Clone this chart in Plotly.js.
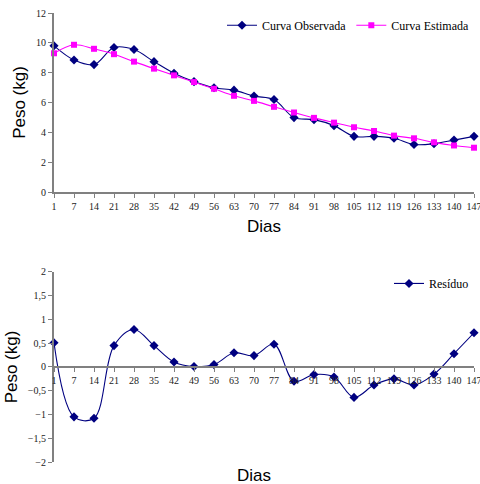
<!DOCTYPE html>
<html>
<head>
<meta charset="utf-8">
<script src="https://cdn.plot.ly/plotly-3.0.1.min.js"></script>
<style>html,body{margin:0;padding:0;background:#fff;}#chart{width:480px;height:484px;}</style>
</head>
<body>
<div id="chart"></div>
<script>
var dias = ['1','7','14','21','28','35','42','49','56','63','70','77','84','91','98','105','112','119','126','133','140','147'];
var observada = [9.8,8.85,8.54,9.69,9.55,8.74,7.96,7.4,6.99,6.83,6.43,6.2,4.99,4.85,4.45,3.73,3.73,3.6,3.19,3.24,3.48,3.73];
var estimada = [9.3,9.87,9.6,9.24,8.74,8.27,7.82,7.37,6.92,6.45,6.11,5.71,5.33,4.97,4.65,4.34,4.09,3.78,3.6,3.33,3.12,2.97];
var residuo = [0.51,-1.05,-1.08,0.45,0.79,0.45,0.105,0.01,0.05,0.30,0.24,0.48,-0.30,-0.16,-0.21,-0.64,-0.38,-0.25,-0.38,-0.15,0.28,0.72];
var yTicks1 = [0,2,4,6,8,10,12];
var yTicks2 = [-2,-1.5,-1,-0.5,0,0.5,1,1.5,2];

var blue = '#000080', pink = '#FF00FF';
var tickFont = {family: 'Liberation Serif, Times New Roman, serif', size: 10, color: '#222'};
var titleFont = {family: 'Liberation Sans, Arial, sans-serif', size: 17, color: '#000'};
var legFont = {family: 'Liberation Serif, Times New Roman, serif', size: 12, color: '#000'};

var traces = [
  {x: dias, y: observada, name: 'Curva Observada', type: 'scatter', mode: 'lines+markers',
   line: {color: blue, width: 1.1, shape: 'spline'}, marker: {symbol: 'diamond', size: 7, color: blue},
   xaxis: 'x', yaxis: 'y', cliponaxis: false, legend: 'legend'},
  {x: dias, y: estimada, name: 'Curva Estimada', type: 'scatter', mode: 'lines+markers',
   line: {color: pink, width: 1.1, shape: 'spline'}, marker: {symbol: 'square', size: 6, color: pink},
   xaxis: 'x', yaxis: 'y', cliponaxis: false, legend: 'legend'},
  {x: dias, y: residuo, name: 'Resíduo', type: 'scatter', mode: 'lines+markers',
   line: {color: blue, width: 1.1, shape: 'spline'}, marker: {symbol: 'diamond', size: 7, color: blue},
   xaxis: 'x2', yaxis: 'y2', cliponaxis: false, legend: 'legend2'}
];

var axisCommon = {showgrid: false, zeroline: false, showline: true, linecolor: '#808080', linewidth: 2,
  ticks: 'outside', ticklen: 4, tickcolor: '#808080', tickwidth: 1, tickfont: tickFont};

var layout = {
  width: 480, height: 484,
  margin: {l: 54, r: 6, t: 13, b: 22},
  paper_bgcolor: '#fff', plot_bgcolor: '#fff',
  separators: ',.',
  showlegend: true,
  xaxis: Object.assign({}, axisCommon, {type: 'category', range: [0, 21], anchor: 'y', domain: [0, 1],
    title: {text: 'Dias', font: titleFont, standoff: 9}}),
  yaxis: Object.assign({}, axisCommon, {range: [0, 12], tickvals: yTicks1, domain: [0.6013, 1], anchor: 'x',
    title: {text: 'Peso (kg)', font: titleFont, standoff: 6}}),
  xaxis2: Object.assign({}, axisCommon, {type: 'category', range: [0, 21], anchor: 'free', position: 0.2116, domain: [0, 1],
    title: {text: ''}}),
  yaxis2: Object.assign({}, axisCommon, {range: [-2, 2], tickvals: yTicks2, domain: [0, 0.4232], anchor: 'x2',
    title: {text: 'Peso (kg)', font: titleFont, standoff: 6}}),
  legend: {orientation: 'h', x: 1.0, xanchor: 'right', y: 1.005, yanchor: 'top', itemwidth: 30,
    font: legFont, bgcolor: 'rgba(0,0,0,0)'},
  legend2: {x: 1.0, xanchor: 'right', y: 0.43, yanchor: 'top', itemwidth: 30,
    font: legFont, bgcolor: 'rgba(0,0,0,0)'},
  annotations: [
    {text: 'Dias', xref: 'paper', yref: 'paper', x: 0.475, y: -0.005, yanchor: 'top', xanchor: 'center',
     showarrow: false, font: titleFont}
  ]
};

Plotly.newPlot('chart', traces, layout, {displayModeBar: false, staticPlot: true});
</script>
</body>
</html>
